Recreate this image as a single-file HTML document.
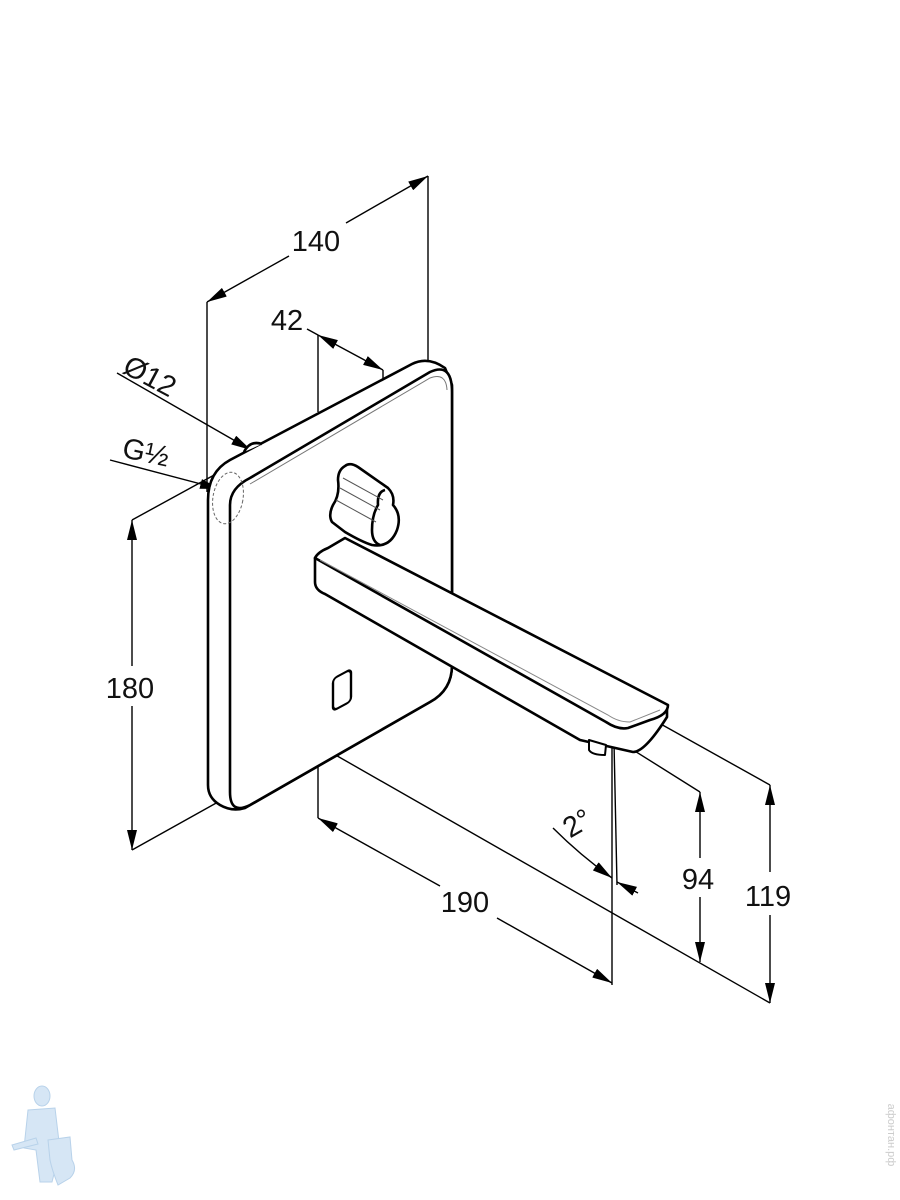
<!DOCTYPE html>
<html><head><meta charset="utf-8"><style>
html,body{margin:0;padding:0;background:#fff;}
svg{display:block}
text{font-family:"Liberation Sans","DejaVu Sans",sans-serif;fill:#111;}
</style></head><body>
<svg width="900" height="1200" viewBox="0 0 900 1200" xmlns="http://www.w3.org/2000/svg">
<defs>
<marker id="a" viewBox="0 0 20 10" refX="20" refY="5" markerWidth="20" markerHeight="10" markerUnits="userSpaceOnUse" orient="auto-start-reverse">
<path d="M0,0 L20,5 L0,10 Z" fill="#000"/></marker>
</defs>
<g fill="none" stroke="#000" stroke-width="1.4">
<!-- 140 -->
<line x1="207" y1="302" x2="207" y2="492"/>
<line x1="428" y1="176" x2="428" y2="366"/>
<line x1="207" y1="302" x2="289" y2="256" marker-start="url(#a)"/>
<line x1="346" y1="223" x2="428" y2="176" marker-end="url(#a)"/>
<!-- 42 -->
<line x1="318" y1="335" x2="318" y2="412"/>
<line x1="383" y1="370" x2="383" y2="548"/>
<line x1="307" y1="329" x2="318" y2="335"/>
<line x1="318" y1="335" x2="383" y2="370" marker-start="url(#a)" marker-end="url(#a)"/>
<!-- O12 -->
<line x1="117" y1="373" x2="251" y2="450" marker-end="url(#a)"/>
<!-- G1/2 -->
<line x1="110" y1="460" x2="220" y2="489" marker-end="url(#a)"/>
<!-- 180 -->
<line x1="132" y1="520" x2="216" y2="474"/>
<line x1="132" y1="850" x2="227" y2="797"/>
<line x1="132" y1="520" x2="132" y2="666" marker-start="url(#a)"/>
<line x1="132" y1="706" x2="132" y2="850" marker-end="url(#a)"/>
<!-- 190 -->
<line x1="318" y1="745" x2="318" y2="818"/>
<line x1="612" y1="742" x2="612" y2="985"/>
<line x1="318" y1="818" x2="440" y2="886" marker-start="url(#a)"/>
<line x1="497" y1="918" x2="612" y2="983" marker-end="url(#a)"/>
<line x1="318" y1="745" x2="770" y2="1003"/>
<!-- 94 -->
<line x1="630" y1="748" x2="700" y2="792"/>
<line x1="700" y1="792" x2="700" y2="858" marker-start="url(#a)"/>
<line x1="700" y1="897" x2="700" y2="962" marker-end="url(#a)"/>
<!-- 119 -->
<line x1="650" y1="718" x2="770" y2="785"/>
<line x1="770" y1="785" x2="770" y2="872" marker-start="url(#a)"/>
<line x1="770" y1="915" x2="770" y2="1003" marker-end="url(#a)"/>
<!-- 2 deg -->
<line x1="614" y1="742" x2="617" y2="885"/>
<path d="M553,828 Q580,855 612,878" marker-end="url(#a)"/>
<line x1="617" y1="882" x2="638" y2="893" marker-start="url(#a)"/>
</g>
<g fill="#fff" stroke="#000" stroke-width="2.6" stroke-linejoin="round">
<!-- plate side/back -->
<path d="M208,500 Q208,472 230,460 L412,364 Q428,356 445,368 L452,385 L452,665 Q452,690 430,702 L245,808 Q232,812 220,805 Q208,798 208,785 Z"/>
<!-- plate front face -->
<path d="M250,478 L430,372 Q452,362 452,392 L452,665 Q452,690 430,702 L250,805 Q230,815 230,792 L230,505 Q230,488 250,478 Z"/>
<!-- nipple -->
<path d="M244,452 Q250,440 262,444" />
<!-- sensor -->
<rect x="-9" y="-16" width="18" height="32" rx="4" transform="translate(342,690) skewY(-28)" stroke-width="2.4"/>
<!-- spout front face -->
<path d="M315,558 L315,582 Q315,590 325,594 L580,740 L633,752 Q645,752 667,717 L667,705 Z"/>
<!-- spout top -->
<path d="M315,558 Q318,552 328,548 L345,538 L668,705 Q668,715 650,720 L628,728 Q618,730 606,722 Z"/>
<!-- aerator -->
<path d="M589,740 L589,750 Q592,755 605,755 L606,745 Z" stroke-width="2"/>
<!-- knob -->
<path d="M345,466 Q350,462 358,467 L388,488 Q395,495 393,505 Q402,515 397,530 Q390,548 372,545 Q362,542 345,532 L332,522 Q328,515 333,505 Q340,495 338,480 Q338,470 345,466 Z"/>
<path d="M385,490 Q377,492 378,505 Q372,515 372,530 Q372,542 380,545" />
</g>
<g fill="none" stroke="#000" stroke-width="1">
<path d="M250,484 L430,378 Q446,372 447,390" stroke="#777"/>
<path d="M320,560 L608,715 Q618,722 630,722 L660,710" stroke="#888"/>
<ellipse cx="228" cy="498" rx="15" ry="26" stroke="#666" stroke-dasharray="3,2" transform="rotate(10 228 498)"/>
<path d="M343,478 L383,500 M340,488 L380,510 M336,500 L376,522" stroke="#555"/>
</g>
<g font-size="29">
<text x="316" y="251" text-anchor="middle">140</text>
<text x="287" y="330" text-anchor="middle">42</text>
<text x="130" y="698" text-anchor="middle">180</text>
<text x="465" y="912" text-anchor="middle">190</text>
<text x="698" y="889" text-anchor="middle">94</text>
<text x="768" y="906" text-anchor="middle">119</text>
<text x="150" y="386" text-anchor="middle" transform="rotate(28 150 376)">Ø12</text>
<text x="146" y="462" text-anchor="middle" transform="rotate(12 146 452)">G½</text>
<text x="577" y="833" text-anchor="middle" transform="rotate(-30 577 823)">2°</text>
</g>
<!-- logo -->
<g fill="#d6e6f5" stroke="#b8d2ea" stroke-width="1">
<ellipse cx="42" cy="1096" rx="8" ry="10"/>
<path d="M28,1110 L55,1108 L60,1150 L52,1182 L40,1182 L36,1150 L24,1148 Z"/>
<path d="M48,1140 L70,1137 L72,1160 Q78,1170 70,1178 L58,1185 Q52,1170 50,1160 Z"/>
<path d="M12,1145 L36,1138 L38,1144 L14,1150 Z"/>
</g>
<text x="888" y="1135" font-size="11" fill="#ccc" style="fill:#ccc" transform="rotate(90 888 1135)" text-anchor="middle">афонтан.рф</text>
</svg>
</body></html>
